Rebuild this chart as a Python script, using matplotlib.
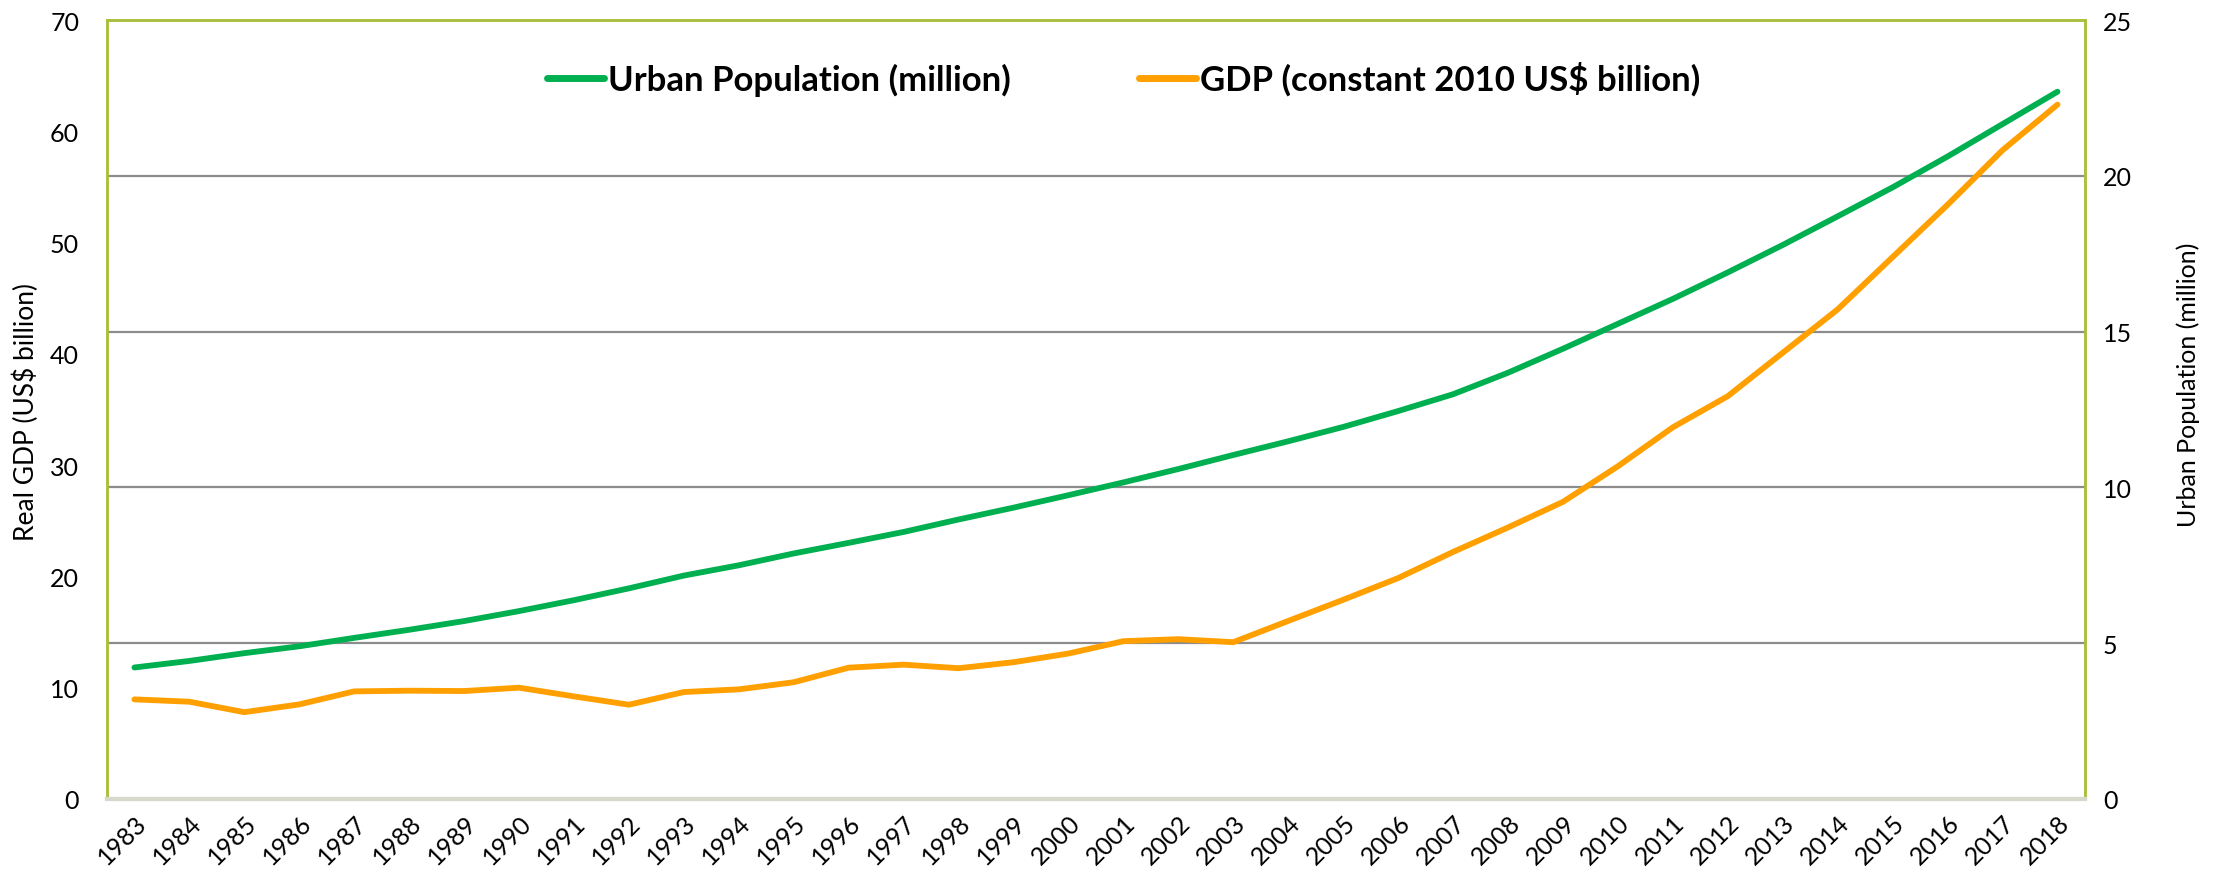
import matplotlib.pyplot as plt
from matplotlib.lines import Line2D

plt.rcParams['font.family'] = ['Lato', 'DejaVu Sans']

years = list(range(1983, 2019))

# urban population, million (right axis)
urban_pop = [4.22, 4.43, 4.68, 4.90, 5.17, 5.43, 5.71, 6.03, 6.38, 6.76,
             7.17, 7.50, 7.88, 8.22, 8.57, 8.97, 9.35, 9.75, 10.16, 10.59,
             11.04, 11.48, 11.94, 12.45, 12.99, 13.68, 14.45, 15.25, 16.05, 16.90,
             17.78, 18.70, 19.63, 20.62, 21.66, 22.70]

# GDP, constant 2010 US$ billion (left axis)
gdp = [8.95, 8.74, 7.80, 8.50, 9.67, 9.73, 9.70, 10.00, 9.22, 8.47,
       9.61, 9.85, 10.49, 11.80, 12.07, 11.75, 12.29, 13.07, 14.18, 14.36,
       14.09, 16.00, 17.90, 19.85, 22.20, 24.40, 26.70, 29.90, 33.40, 36.20,
       40.10, 44.00, 48.70, 53.40, 58.30, 62.40]

green = '#00b050'
orange = '#ffa000'
frame = '#a8c03c'

fig = plt.figure(figsize=(22.28, 8.79), dpi=100)
ax = fig.add_axes([0.048, 0.0899, 0.8878, 0.8862])
ax2 = ax.twinx()

x = range(len(years))

# population axis sits on the right and carries the grid
ax.plot(x, urban_pop, color=green, lw=4.2, solid_capstyle='round', zorder=3)
ax.set_ylim(0, 25)
ax.set_yticks(range(0, 26, 5))
ax.yaxis.tick_right()
ax.grid(axis='y', color='#8c8c8c', lw=1.6)
ax.set_axisbelow(True)

ax2.plot(x, gdp, color=orange, lw=4.2, solid_capstyle='round', zorder=3)
ax2.set_ylim(0, 70)
ax2.set_yticks(range(0, 71, 10))
ax2.yaxis.tick_left()

ax.set_xlim(-0.5, len(years) - 0.5)
ax.set_xticks(list(x))
ax.set_xticklabels([str(y) for y in years], rotation=45, ha='right',
                   rotation_mode='anchor', fontsize=18)

ax.tick_params(axis='y', length=0, pad=13, labelsize=18)
ax2.tick_params(axis='y', length=0, pad=20, labelsize=18)
ax.tick_params(axis='x', length=0, pad=8)

for a in (ax, ax2):
    for side in ('top', 'left', 'right'):
        a.spines[side].set_color(frame)
        a.spines[side].set_linewidth(1.8)
    a.spines['bottom'].set_color('#d8d8cc')
    a.spines['bottom'].set_linewidth(3)

fig.text(0.0117, 0.531, 'Real GDP (US$ billion)', rotation=90,
         ha='center', va='center', fontsize=19)
fig.text(0.982, 0.562, 'Urban Population (million)', rotation=90,
         ha='center', va='center', fontsize=18)

handles = [Line2D([], [], color=green, lw=5, solid_capstyle='round'),
           Line2D([], [], color=orange, lw=5, solid_capstyle='round')]
labels = ['Urban Population (million)', 'GDP (constant 2010 US$ billion)']
ax2.legend(handles, labels, loc='center', bbox_to_anchor=(0.514, 0.925),
           ncol=2, frameon=False, handlelength=1.64, handletextpad=0.12,
           columnspacing=3.7, prop={'weight': 'bold', 'size': 25})

fig.savefig('out.png', dpi=100)
